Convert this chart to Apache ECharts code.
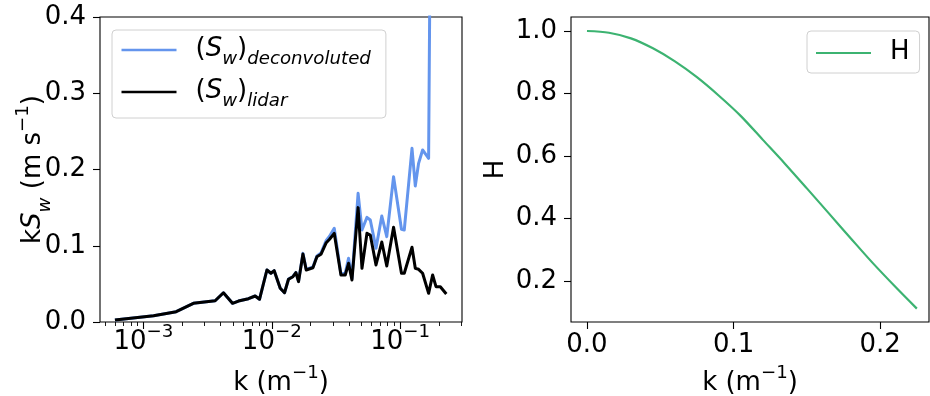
<!DOCTYPE html>
<html>
<head>
<meta charset="utf-8">
<script src="https://cdn.jsdelivr.net/npm/echarts@6/dist/echarts.min.js"></script>
<style>
  html, body { margin: 0; padding: 0; background: #fff; }
  #chart { width: 930px; height: 396px; }
</style>
</head>
<body>
<div id="chart"></div>
<script>
// Wavenumber of each spectral estimate (m^-1)
const kSpec = [
  6.0e-4, 1.2e-3, 1.8e-3, 2.45e-3, 3.62e-3, 4.2e-3, 4.94e-3, 5.5e-3, 6.58e-3, 7.42e-3,
  8.02e-3, 9.16e-3, 9.84e-3, 1.044e-2, 1.163e-2, 1.256e-2, 1.349e-2, 1.461e-2, 1.541e-2, 1.615e-2,
  1.748e-2, 1.854e-2, 2.091e-2, 2.246e-2, 2.414e-2, 2.655e-2, 2.817e-2, 3.064e-2, 3.456e-2, 3.733e-2,
  3.961e-2, 4.21e-2, 4.70e-2, 5.04e-2, 5.51e-2, 5.85e-2, 6.48e-2, 7.19e-2, 7.86e-2, 8.88e-2,
  1.023e-1, 1.076e-1, 1.236e-1, 1.311e-1, 1.391e-1, 1.495e-1, 1.665e-1, 1.789e-1, 1.901e-1, 2.054e-1,
  2.287e-1
];
// Premultiplied spectrum k*S_w, lidar measurement
const sLidar = [
  0.0026, 0.0083, 0.0135, 0.0245, 0.0279, 0.0384, 0.0245, 0.0275, 0.0306, 0.0341,
  0.0298, 0.0682, 0.0639, 0.0673, 0.0442, 0.0384, 0.0560, 0.0594, 0.0647, 0.0529,
  0.0892, 0.0682, 0.0712, 0.0856, 0.0888, 0.1040, 0.1085, 0.1163, 0.0616, 0.0616,
  0.0770, 0.0551, 0.1500, 0.0704, 0.1163, 0.1141, 0.0748, 0.1049, 0.0734, 0.1242,
  0.0639, 0.0639, 0.0980, 0.0704, 0.0691, 0.0639, 0.0376, 0.0616, 0.0463, 0.0463,
  0.0367
];
// Premultiplied spectrum k*S_w after deconvolution
const sDeconv = [
  0.0026, 0.0083, 0.0135, 0.0245, 0.0279, 0.0384, 0.0245, 0.0275, 0.0306, 0.0341,
  0.0298, 0.0682, 0.0639, 0.0673, 0.0442, 0.0384, 0.0562, 0.0597, 0.0651, 0.0533,
  0.0900, 0.0690, 0.0722, 0.0866, 0.0905, 0.1070, 0.1125, 0.1229, 0.0630, 0.0640,
  0.0835, 0.0570, 0.1688, 0.1207, 0.1373, 0.1338, 0.0967, 0.1390, 0.1120, 0.1906,
  0.1216, 0.1207, 0.2278, 0.1784, 0.2081, 0.2256, 0.2147, 0.9500, 1.4000, 2.0000,
  2.8000
];
// Transfer function H(k)
const kH = [0, 0.015, 0.030, 0.045, 0.060, 0.075, 0.090, 0.105, 0.120, 0.135,
            0.150, 0.165, 0.180, 0.195, 0.210, 0.225];
const hVals = [1.000, 0.9945, 0.9765, 0.9446, 0.9029, 0.8523, 0.7931, 0.7280, 0.6520, 0.5760,
               0.4970, 0.4170, 0.3370, 0.2580, 0.1840, 0.1126];

// Tick positions and labels
const logMajorTicks = [1e-3, 1e-2, 1e-1];
const logMajorExp = ['\u22123', '\u22122', '\u22121'];
const logMinorTicks = [5e-4, 6e-4, 7e-4, 8e-4, 9e-4,
  2e-3, 3e-3, 4e-3, 5e-3, 6e-3, 7e-3, 8e-3, 9e-3,
  2e-2, 3e-2, 4e-2, 5e-2, 6e-2, 7e-2, 8e-2, 9e-2,
  2e-1, 3e-1];
const specTicks = [0.0, 0.1, 0.2, 0.3, 0.4];
const kLinTicks = [0.0, 0.1, 0.2];
const hTicks = [0.2, 0.4, 0.6, 0.8, 1.0];

const FONT = 'DejaVu Sans';
const FS = 26;
const SUB = 18.2;

const richText = {
  b: { fontFamily: FONT, fontSize: FS, color: '#000', lineHeight: 28, verticalAlign: 'top', padding: [6, 0, 0, 0] },
  e: { fontFamily: FONT, fontSize: SUB, color: '#000', lineHeight: 18, verticalAlign: 'top' },
  i: { fontFamily: FONT, fontSize: FS, fontStyle: 'italic', color: '#000', lineHeight: 28, verticalAlign: 'top', padding: [6, 0, 0, 0] },
  s: { fontFamily: FONT, fontSize: SUB, fontStyle: 'italic', color: '#000', lineHeight: 18, verticalAlign: 'top', padding: [22, 0, 0, 0] }
};

const legendRich = {
  b: { fontFamily: FONT, fontSize: FS, color: '#000', lineHeight: 28, verticalAlign: 'top' },
  p: { fontFamily: FONT, fontSize: FS, color: '#000', lineHeight: 28, verticalAlign: 'top', padding: [0, 0, 0, 14] },
  i: { fontFamily: FONT, fontSize: FS, fontStyle: 'italic', color: '#000', lineHeight: 28, verticalAlign: 'top' },
  s: { fontFamily: FONT, fontSize: SUB, fontStyle: 'italic', color: '#000', lineHeight: 18, verticalAlign: 'top', padding: [14, 0, 0, 0] }
};

const legendLabels = {
  deconvoluted: '{p|(}{i|S}{s|w}{b|)}{s|deconvoluted}',
  lidar: '{p|(}{i|S}{s|w}{b|)}{s|lidar}',
  H: '{p|H}'
};

const pairs = (xs, ys) => xs.map((x, i) => [x, ys[i]]);

const tickStyle = { color: '#000', width: 1.1 };
const plainLabel = { color: '#000', fontFamily: FONT, fontSize: FS };
const frame = { show: true, borderColor: '#000', borderWidth: 1.1, backgroundColor: 'transparent', outerBoundsMode: 'none', containLabel: false };
const noLine = { show: false, onZero: false };

const chart = echarts.init(document.getElementById('chart'), null, { renderer: 'canvas' });
chart.setOption({
  animation: false,
  backgroundColor: '#fff',
  textStyle: { fontFamily: FONT },
  grid: [
    Object.assign({ left: 100, top: 17, width: 362, height: 305 }, frame),
    Object.assign({ left: 571, top: 17, width: 358, height: 305 }, frame)
  ],
  xAxis: [
    {
      type: 'log', logBase: 10, gridIndex: 0, min: 4.59e-4, max: 0.303,
      axisLine: noLine,
      splitLine: { show: false },
      axisTick: { show: true, length: 7, lineStyle: tickStyle, customValues: logMajorTicks },
      axisLabel: {
        customValues: logMajorTicks, margin: 1,
        formatter: v => {
          const idx = logMajorTicks.findIndex(t => Math.abs(Math.log10(t) - Math.log10(v)) < 1e-6);
          return '{b|10}{e|' + logMajorExp[idx] + '}';
        },
        rich: richText
      },
      name: '{b|k (m}{e|\u22121}{b|)}', nameLocation: 'middle', nameGap: 42, nameMoveOverlap: false,
      nameTextStyle: { rich: richText }
    },
    {
      type: 'log', logBase: 10, gridIndex: 0, min: 4.59e-4, max: 0.303, position: 'bottom',
      axisLine: noLine, splitLine: { show: false },
      axisTick: { show: true, length: 4, lineStyle: { color: '#000', width: 0.9 }, customValues: logMinorTicks },
      axisLabel: { show: false }
    },
    {
      type: 'value', gridIndex: 1, min: -0.0109, max: 0.2333,
      axisLine: noLine, splitLine: { show: false },
      axisTick: { show: true, length: 7, lineStyle: tickStyle, customValues: kLinTicks },
      axisLabel: Object.assign({
        customValues: kLinTicks, margin: 10,
        formatter: v => v.toFixed(1)
      }, plainLabel),
      name: '{b|k (m}{e|\u22121}{b|)}', nameLocation: 'middle', nameGap: 42, nameMoveOverlap: false,
      nameTextStyle: { rich: richText }
    }
  ],
  yAxis: [
    {
      type: 'value', gridIndex: 0, min: 0, max: 0.4,
      axisLine: noLine, splitLine: { show: false },
      axisTick: { show: true, length: 7, lineStyle: tickStyle, customValues: specTicks },
      axisLabel: Object.assign({
        customValues: specTicks, margin: 14,
        formatter: v => v.toFixed(1)
      }, plainLabel),
      name: '{b|k}{i|S}{s|w}{b| (m s}{e|\u22121}{b|)}', nameLocation: 'middle', nameGap: 58, nameMoveOverlap: false,
      nameRotate: 90,
      nameTextStyle: { rich: richText }
    },
    {
      type: 'value', gridIndex: 1, min: 0.0698, max: 1.0448,
      axisLine: noLine, splitLine: { show: false },
      axisTick: { show: true, length: 7, lineStyle: tickStyle, customValues: hTicks },
      axisLabel: Object.assign({
        customValues: hTicks, margin: 14,
        formatter: v => v.toFixed(1)
      }, plainLabel),
      name: 'H', nameLocation: 'middle', nameGap: 62, nameMoveOverlap: false, nameRotate: 90,
      nameTextStyle: plainLabel
    }
  ],
  legend: [
    {
      data: ['deconvoluted', 'lidar'], orient: 'vertical', left: 112, top: 30,
      icon: 'rect', itemWidth: 55, itemHeight: 2.6, itemGap: 10,
      padding: [6, 15, 8, 9.5],
      backgroundColor: 'rgba(255,255,255,0.8)', borderColor: '#d0d0d0', borderWidth: 1, borderRadius: 4,
      formatter: n => legendLabels[n],
      textStyle: { rich: legendRich }
    },
    {
      data: ['H'], orient: 'vertical', left: 807, top: 31,
      icon: 'rect', itemWidth: 55, itemHeight: 2.2,
      padding: [8, 10, 8, 9],
      backgroundColor: 'rgba(255,255,255,0.8)', borderColor: '#d0d0d0', borderWidth: 1, borderRadius: 4,
      formatter: n => legendLabels[n],
      textStyle: { rich: legendRich }
    }
  ],
  series: [
    {
      name: 'deconvoluted', type: 'line', xAxisIndex: 0, yAxisIndex: 0,
      data: pairs(kSpec, sDeconv), symbol: 'none', clip: true,
      itemStyle: { color: '#6495ED' },
      lineStyle: { color: '#6495ED', width: 3, join: 'round' }
    },
    {
      name: 'lidar', type: 'line', xAxisIndex: 0, yAxisIndex: 0,
      data: pairs(kSpec, sLidar), symbol: 'none', clip: true,
      itemStyle: { color: '#000' },
      lineStyle: { color: '#000', width: 3, join: 'round' }
    },
    {
      name: 'H', type: 'line', xAxisIndex: 2, yAxisIndex: 1,
      data: pairs(kH, hVals), symbol: 'none', smooth: 0.3, clip: true,
      itemStyle: { color: '#3CB371' },
      lineStyle: { color: '#3CB371', width: 2.2 }
    }
  ]
});
</script>
</body>
</html>
